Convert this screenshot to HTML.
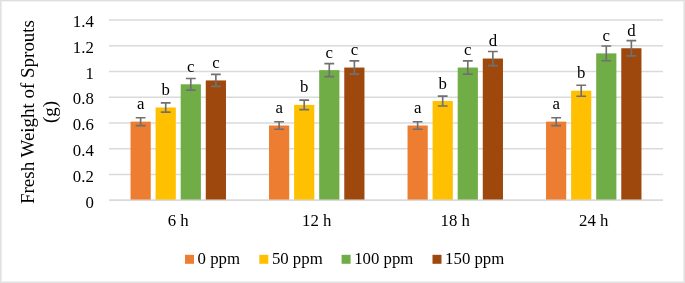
<!DOCTYPE html><html><head><meta charset="utf-8"><title>chart</title><style>html,body{margin:0;padding:0;background:#fff}body{width:685px;height:283px;overflow:hidden}svg{display:block;will-change:transform;opacity:0.999}text{font-family:"Liberation Serif",serif;fill:#000}</style></head><body>
<svg width="685" height="283" viewBox="0 0 685 283">
<rect x="0" y="0" width="685" height="283" fill="#fff"/>
<g shape-rendering="crispEdges"><rect x="0" y="0" width="685" height="1" fill="#dfdfdf"/><rect x="0" y="1" width="685" height="1" fill="#f3f3f3"/><rect x="0" y="281" width="685" height="1" fill="#f0f0f0"/><rect x="0" y="282" width="685" height="1" fill="#e3e3e3"/><rect x="0" y="0" width="1" height="283" fill="#e0e0e0"/><rect x="1" y="1" width="1" height="281" fill="#ececec"/><rect x="683" y="1" width="1" height="281" fill="#ededed"/><rect x="684" y="0" width="1" height="283" fill="#e2e2e2"/></g>
<line x1="109.0" x2="663.0" y1="200.20" y2="200.20" stroke="#dadada" stroke-width="1.5"/>
<line x1="109.0" x2="663.0" y1="174.44" y2="174.44" stroke="#dadada" stroke-width="1.5"/>
<line x1="109.0" x2="663.0" y1="148.69" y2="148.69" stroke="#dadada" stroke-width="1.5"/>
<line x1="109.0" x2="663.0" y1="122.93" y2="122.93" stroke="#dadada" stroke-width="1.5"/>
<line x1="109.0" x2="663.0" y1="97.17" y2="97.17" stroke="#dadada" stroke-width="1.5"/>
<line x1="109.0" x2="663.0" y1="71.41" y2="71.41" stroke="#dadada" stroke-width="1.5"/>
<line x1="109.0" x2="663.0" y1="45.66" y2="45.66" stroke="#dadada" stroke-width="1.5"/>
<line x1="109.0" x2="663.0" y1="19.90" y2="19.90" stroke="#dadada" stroke-width="1.5"/>
<text x="93.8" y="207.50" font-size="16.8" text-anchor="end">0</text>
<text x="93.8" y="181.74" font-size="16.8" text-anchor="end">0.2</text>
<text x="93.8" y="155.99" font-size="16.8" text-anchor="end">0.4</text>
<text x="93.8" y="130.23" font-size="16.8" text-anchor="end">0.6</text>
<text x="93.8" y="104.47" font-size="16.8" text-anchor="end">0.8</text>
<text x="93.8" y="78.71" font-size="16.8" text-anchor="end">1</text>
<text x="93.8" y="52.96" font-size="16.8" text-anchor="end">1.2</text>
<text x="93.8" y="27.20" font-size="16.8" text-anchor="end">1.4</text>
<rect x="130.53" y="121.64" width="20.20" height="78.56" fill="#ED7D31"/>
<path d="M140.63 117.71V125.57M135.73 117.71H145.53M135.73 125.57H145.53" stroke="#707070" stroke-width="1.65" fill="none"/>
<text x="140.63" y="109.14" font-size="16.8" text-anchor="middle">a</text>
<rect x="155.61" y="107.47" width="20.20" height="92.73" fill="#FFC000"/>
<path d="M165.71 102.84V112.11M160.81 102.84H170.61M160.81 112.11H170.61" stroke="#707070" stroke-width="1.65" fill="none"/>
<text x="165.71" y="94.97" font-size="16.8" text-anchor="middle">b</text>
<rect x="180.69" y="84.29" width="20.20" height="115.91" fill="#70AD47"/>
<path d="M190.79 78.50V90.09M185.89 78.50H195.69M185.89 90.09H195.69" stroke="#707070" stroke-width="1.65" fill="none"/>
<text x="190.79" y="71.79" font-size="16.8" text-anchor="middle">c</text>
<rect x="205.77" y="80.43" width="20.20" height="119.77" fill="#9E480E"/>
<path d="M215.87 74.44V86.42M210.97 74.44H220.77M210.97 86.42H220.77" stroke="#707070" stroke-width="1.65" fill="none"/>
<text x="215.87" y="67.93" font-size="16.8" text-anchor="middle">c</text>
<text x="178.25" y="225.8" font-size="16.8" text-anchor="middle">6 h</text>
<rect x="269.03" y="125.50" width="20.20" height="74.70" fill="#ED7D31"/>
<path d="M279.13 121.77V129.24M274.23 121.77H284.03M274.23 129.24H284.03" stroke="#707070" stroke-width="1.65" fill="none"/>
<text x="279.13" y="113.00" font-size="16.8" text-anchor="middle">a</text>
<rect x="294.11" y="104.90" width="20.20" height="95.30" fill="#FFC000"/>
<path d="M304.21 100.13V109.66M299.31 100.13H309.11M299.31 109.66H309.11" stroke="#707070" stroke-width="1.65" fill="none"/>
<text x="304.21" y="92.40" font-size="16.8" text-anchor="middle">b</text>
<rect x="319.19" y="70.13" width="20.20" height="130.07" fill="#70AD47"/>
<path d="M329.29 63.62V76.63M324.39 63.62H334.19M324.39 76.63H334.19" stroke="#707070" stroke-width="1.65" fill="none"/>
<text x="329.29" y="57.63" font-size="16.8" text-anchor="middle">c</text>
<rect x="344.27" y="67.55" width="20.20" height="132.65" fill="#9E480E"/>
<path d="M354.37 60.92V74.18M349.47 60.92H359.27M349.47 74.18H359.27" stroke="#707070" stroke-width="1.65" fill="none"/>
<text x="354.37" y="55.05" font-size="16.8" text-anchor="middle">c</text>
<text x="316.75" y="225.8" font-size="16.8" text-anchor="middle">12 h</text>
<rect x="407.53" y="125.50" width="20.20" height="74.70" fill="#ED7D31"/>
<path d="M417.63 121.77V129.24M412.73 121.77H422.53M412.73 129.24H422.53" stroke="#707070" stroke-width="1.65" fill="none"/>
<text x="417.63" y="113.00" font-size="16.8" text-anchor="middle">a</text>
<rect x="432.61" y="101.03" width="20.20" height="99.16" fill="#FFC000"/>
<path d="M442.71 96.08V105.99M437.81 96.08H447.61M437.81 105.99H447.61" stroke="#707070" stroke-width="1.65" fill="none"/>
<text x="442.71" y="88.53" font-size="16.8" text-anchor="middle">b</text>
<rect x="457.69" y="67.55" width="20.20" height="132.65" fill="#70AD47"/>
<path d="M467.79 60.92V74.18M462.89 60.92H472.69M462.89 74.18H472.69" stroke="#707070" stroke-width="1.65" fill="none"/>
<text x="467.79" y="55.05" font-size="16.8" text-anchor="middle">c</text>
<rect x="482.77" y="58.54" width="20.20" height="141.66" fill="#9E480E"/>
<path d="M492.87 51.45V65.62M487.97 51.45H497.77M487.97 65.62H497.77" stroke="#707070" stroke-width="1.65" fill="none"/>
<text x="492.87" y="46.04" font-size="16.8" text-anchor="middle">d</text>
<text x="455.25" y="225.8" font-size="16.8" text-anchor="middle">18 h</text>
<rect x="546.03" y="121.64" width="20.20" height="78.56" fill="#ED7D31"/>
<path d="M556.13 117.71V125.57M551.23 117.71H561.03M551.23 125.57H561.03" stroke="#707070" stroke-width="1.65" fill="none"/>
<text x="556.13" y="109.14" font-size="16.8" text-anchor="middle">a</text>
<rect x="571.11" y="90.73" width="20.20" height="109.47" fill="#FFC000"/>
<path d="M581.21 85.26V96.21M576.31 85.26H586.11M576.31 96.21H586.11" stroke="#707070" stroke-width="1.65" fill="none"/>
<text x="581.21" y="78.23" font-size="16.8" text-anchor="middle">b</text>
<rect x="596.19" y="53.38" width="20.20" height="146.82" fill="#70AD47"/>
<path d="M606.29 46.04V60.73M601.39 46.04H611.19M601.39 60.73H611.19" stroke="#707070" stroke-width="1.65" fill="none"/>
<text x="606.29" y="40.88" font-size="16.8" text-anchor="middle">c</text>
<rect x="621.27" y="48.23" width="20.20" height="151.97" fill="#9E480E"/>
<path d="M631.37 40.63V55.83M626.47 40.63H636.27M626.47 55.83H636.27" stroke="#707070" stroke-width="1.65" fill="none"/>
<text x="631.37" y="35.73" font-size="16.8" text-anchor="middle">d</text>
<text x="593.75" y="225.8" font-size="16.8" text-anchor="middle">24 h</text>
<line x1="109.0" x2="663.0" y1="200.2" y2="200.2" stroke="#dadada" stroke-width="1.5"/>
<text transform="translate(34,112.0) rotate(-90)" font-size="18.97" text-anchor="middle">Fresh Weight of Sprouts</text>
<text transform="translate(55.5,111.9) rotate(-90)" font-size="18.97" text-anchor="middle">(g)</text>
<rect x="185" y="254.8" width="9" height="9" fill="#ED7D31"/>
<text x="197.6" y="263.6" font-size="16.8">0 ppm</text>
<rect x="259.3" y="254.8" width="9" height="9" fill="#FFC000"/>
<text x="271.90000000000003" y="263.6" font-size="16.8">50 ppm</text>
<rect x="341.6" y="254.8" width="9" height="9" fill="#70AD47"/>
<text x="354.20000000000005" y="263.6" font-size="16.8">100 ppm</text>
<rect x="432.5" y="254.8" width="9" height="9" fill="#9E480E"/>
<text x="445.1" y="263.6" font-size="16.8">150 ppm</text>
</svg></body></html>
